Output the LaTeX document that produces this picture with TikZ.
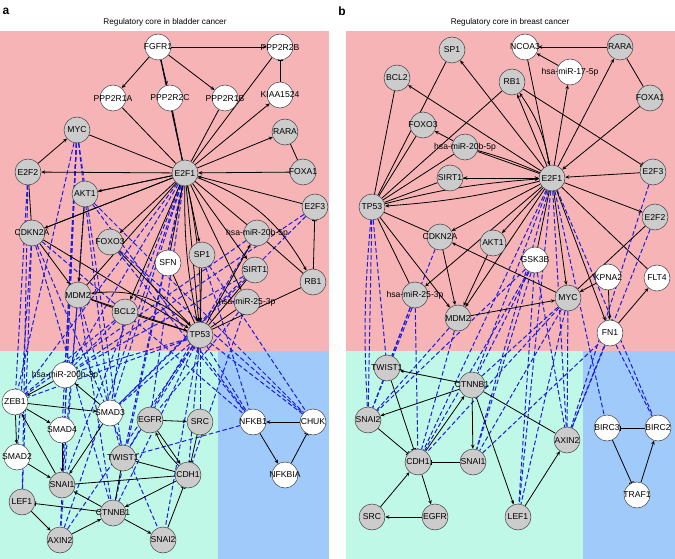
\documentclass[tikz,border=0pt]{standalone}
\usepackage{fontspec}
\setmainfont{Liberation Sans}
\usepackage{tikz}
\usetikzlibrary{arrows.meta}
\definecolor{coreRed}{RGB}{246,180,182}
\definecolor{coreCyan}{RGB}{192,248,232}
\definecolor{coreBlue}{RGB}{160,202,250}
\definecolor{geneGray}{RGB}{204,204,204}
\definecolor{linkBlue}{RGB}{28,28,222}
\pgfdeclarelayer{regions}
\pgfdeclarelayer{links}
\pgfsetlayers{regions,links,main}
\newcommand{\genefont}{\fontsize{8.6}{9}\selectfont}
\tikzset{
    gene/.style={circle, draw=black!75, line width=0.5pt, minimum size=26pt, inner sep=0pt,
        label={[font=\genefont, inner sep=0pt]center:#1}},
    ggene/.style={gene=#1, fill=geneGray},
    wgene/.style={gene=#1, fill=white},
    act/.style={line width=0.8pt, -{Stealth[length=4pt,width=3.5pt]}},
    inh/.style={line width=0.8pt, -{Bar[width=5pt]}},
    bond/.style={line width=0.8pt},
    reg/.style={linkBlue, line width=1pt, dash pattern=on 4.5pt off 2.5pt},
}

\begin{document}
\begin{tikzpicture}[x=1pt, y=-1pt]

    \useasboundingbox (0,0) rectangle (675,559);

    % Draw the coloured regions of both panels
    \begin{pgfonlayer}{regions}
        \fill[coreRed] (0,31) rectangle (329,351);
        \fill[coreCyan] (0,351) rectangle (218,559);
        \fill[coreBlue] (218,351) rectangle (329,559);
        \fill[coreRed] (346,31) rectangle (675,351);
        \fill[coreCyan] (346,351) rectangle (583,559);
        \fill[coreBlue] (583,351) rectangle (675,559);
    \end{pgfonlayer}

    % Panel letters and titles
    \node[font=\bfseries\fontsize{12}{14}\selectfont] (aTag) at (6,11) {a};
    \node[font=\fontsize{8.2}{9}\selectfont] (aTitle) at (165,22) {Regulatory core in bladder cancer};
    \node[font=\bfseries\fontsize{12}{14}\selectfont] (bTag) at (342,11) {b};
    \node[font=\fontsize{8.2}{9}\selectfont] (bTitle) at (510,22) {Regulatory core in breast cancer};

    % Panel a: grey genes
    \foreach \nm/\x/\y/\lbl in {MYC/77/130/MYC, RARA/285/132/RARA, E2F2/28/172/E2F2, E2F1/185/173/E2F1,
        FOXA1/303/172/FOXA1, AKT1/85/194/AKT1, E2F3/315/207/E2F3, CDKN2A/32/233/CDKN2A,
        FOXO3/110/242/FOXO3, mirB/257/233/hsa-miR-20b-5p, SP1/202/255/SP1, SIRT1/255/270/SIRT1,
        RB1/313/282/RB1, MDM2/78/295/MDM2, BCL2/125/312/BCL2, mirC/247/302/hsa-miR-25-3p,
        TP53/200/335/TP53, EGFR/150/420/EGFR, SRC/200/422/SRC, TWIST1/123/458/TWIST1,
        CDH1/188/475/CDH1, SNAI1/62/485/SNAI1, LEF1/22/502/LEF1, CTNNB1/113/513/CTNNB1,
        AXIN2/60/540/AXIN2, SNAI2/163/540/SNAI2}{
        \node[ggene=\lbl] (a\nm) at (\x,\y) {};
    }

    % Panel a: white genes
    \foreach \nm/\x/\y/\lbl in {FGFR1/158/47/FGFR1, PPP2R2B/280/47/PPP2R2B, PPP2R1A/113/98/PPP2R1A,
        PPP2R2C/170/98/PPP2R2C, PPP2R1B/225/98/PPP2R1B, KIAA1524/280/95/KIAA1524, SFN/168/263/SFN,
        mirA/65/375/hsa-miR-200b-3p, ZEB1/15/402/ZEB1, SMAD3/110/413/SMAD3, NFKB1/253/422/NFKB1,
        CHUK/313/422/CHUK, SMAD4/62/430/SMAD4, SMAD2/17/457/SMAD2, NFKBIA/285/475/NFKBIA}{
        \node[wgene=\lbl] (a\nm) at (\x,\y) {};
    }

    % Panel b: grey genes
    \foreach \nm/\x/\y/\lbl in {SP1/452/50/SP1, RARA/620/47/RARA, BCL2/397/78/BCL2, RB1/512/82/RB1,
        FOXA1/650/98/FOXA1, FOXO3/423/125/FOXO3, mirB/465/147/hsa-miR-20b-5p, E2F1/552/178/E2F1,
        SIRT1/450/178/SIRT1, E2F3/653/172/E2F3, TP53/372/207/TP53, E2F2/655/217/E2F2,
        CDKN2A/440/237/CDKN2A, AKT1/493/243/AKT1, mirC/415/295/hsa-miR-25-3p, MYC/568/298/MYC,
        MDM2/458/318/MDM2, TWIST1/387/368/TWIST1, CTNNB1/472/385/CTNNB1, SNAI2/368/420/SNAI2,
        AXIN2/567/440/AXIN2, CDH1/418/462/CDH1, SNAI1/473/462/SNAI1, SRC/372/517/SRC,
        EGFR/435/517/EGFR, LEF1/518/517/LEF1}{
        \node[ggene=\lbl] (b\nm) at (\x,\y) {};
    }

    % Panel b: white genes
    \foreach \nm/\x/\y/\lbl in {NCOA3/525/47/NCOA3, mirQ/570/72/hsa-miR-17-5p, GSK3B/535/260/GSK3B,
        KPNA2/608/277/KPNA2, FLT4/657/278/FLT4, FN1/610/333/FN1, BIRC3/607/428/BIRC3,
        BIRC2/658/428/BIRC2, TRAF1/637/495/TRAF1}{
        \node[wgene=\lbl] (b\nm) at (\x,\y) {};
    }

    \begin{pgfonlayer}{links}

    % Panel a: dashed regulatory links
    \foreach \s/\t in {FGFR1/E2F1, MYC/ZEB1, MYC/SMAD4, MYC/SNAI1, MYC/AXIN2, MYC/mirA, MYC/TWIST1,
        MYC/SMAD3, E2F1/mirA, E2F1/SMAD3, E2F1/ZEB1, E2F1/TWIST1, E2F1/SNAI1, E2F1/EGFR, E2F1/AXIN2,
        E2F1/CTNNB1, E2F2/LEF1, E2F2/ZEB1, CDKN2A/SMAD2, CDKN2A/LEF1, CDKN2A/CTNNB1, CDKN2A/SNAI2,
        CDKN2A/NFKB1, AKT1/NFKB1, AKT1/CHUK, AKT1/AXIN2, FOXO3/NFKB1, FOXO3/CHUK, MDM2/SNAI1,
        MDM2/TWIST1, MDM2/CTNNB1, BCL2/mirA, BCL2/SMAD3, BCL2/ZEB1, E2F3/mirA, E2F3/SMAD3, mirB/ZEB1,
        mirB/TWIST1, SIRT1/SMAD3, SIRT1/mirA, mirC/CDH1, mirC/EGFR, TP53/mirA, TP53/ZEB1, TP53/SMAD3,
        TP53/SRC, TP53/TWIST1, TP53/CDH1, TP53/SNAI2, TP53/NFKB1, TP53/CHUK, TP53/CTNNB1,
        TP53/AXIN2, SP1/NFKB1, SP1/CHUK, NFKB1/TWIST1}{
        \draw[reg] (a\s) -- (a\t);
    }

    % Panel a: activations
    \foreach \s/\t in {FGFR1/PPP2R2B, FGFR1/PPP2R1A, FGFR1/PPP2R2C, FGFR1/PPP2R1B, E2F1/KIAA1524,
        E2F1/RARA, FOXA1/E2F1, E2F1/E2F2, E2F2/MYC, E2F3/E2F1, E2F1/FOXO3, E2F1/CDKN2A, E2F1/AKT1,
        E2F1/SP1, E2F1/BCL2, E2F1/TP53, AKT1/MDM2, CDKN2A/MDM2, CDKN2A/TP53, MDM2/TP53, FOXO3/TP53,
        SP1/TP53, TP53/mirB, E2F1/SIRT1, E2F1/mirC, mirA/ZEB1, SMAD3/mirA, ZEB1/SMAD3, ZEB1/SMAD4,
        ZEB1/SMAD2, SMAD2/SNAI1, SMAD4/SNAI1, SNAI1/ZEB1, SMAD3/SNAI1, EGFR/SRC, EGFR/CDH1,
        CDH1/CTNNB1, CTNNB1/SNAI1, LEF1/AXIN2, AXIN2/CTNNB1, CTNNB1/SNAI2, CHUK/NFKB1, NFKB1/NFKBIA}{
        \draw[act] (a\s) -- (a\t);
    }

    % Panel a: inhibitions
    \foreach \s/\t in {KIAA1524/PPP2R2B, RB1/E2F3, SRC/CDH1, CTNNB1/LEF1, SNAI2/CDH1, NFKBIA/CHUK}{
        \draw[inh] (a\s) -- (a\t);
    }

    % Panel a: plain links
    \foreach \s/\t in {FGFR1/E2F1, PPP2R2B/E2F1, PPP2R1A/E2F1, PPP2R1B/E2F1, PPP2R2C/E2F1, MYC/E2F1,
        FOXA1/RARA, CDKN2A/E2F2, AKT1/E2F1, CDKN2A/E2F1, SFN/E2F1, E2F1/MDM2, mirB/RB1, mirB/E2F1,
        TP53/RB1, TP53/mirC, BCL2/MDM2, BCL2/TP53, SFN/TP53, SIRT1/TP53, TWIST1/CDH1, SNAI1/CDH1,
        CTNNB1/TWIST1}{
        \draw[bond] (a\s) -- (a\t);
    }
    \draw[act] (aE2F1) to[bend left=20] (aRB1);
    \draw[act] (aTP53) to[bend right=25] (aMDM2);
    \draw[act] (aE2F1) to[bend left=6] (aTP53);
    \draw[act] (aE2F1) to[bend right=6] (aTP53);
    \draw[act] (aCDH1) to[bend left=10] (aEGFR);

    % Panel b: dashed regulatory links
    \foreach \s/\t in {TP53/SNAI2, TP53/TWIST1, mirC/TWIST1, mirC/SNAI2, mirC/CDH1, CDKN2A/SNAI2,
        MDM2/SNAI2, MDM2/CDH1, GSK3B/SNAI2, GSK3B/CDH1, GSK3B/SNAI1, GSK3B/CTNNB1, GSK3B/LEF1,
        GSK3B/AXIN2, E2F1/CTNNB1, E2F1/CDH1, E2F1/SNAI1, E2F1/LEF1, E2F1/AXIN2, E2F1/BIRC3,
        E2F1/BIRC2, MYC/SNAI1, MYC/LEF1, MYC/AXIN2, MYC/CDH1, E2F3/AXIN2, E2F2/AXIN2, FN1/BIRC2,
        SNAI1/FN1, CTNNB1/MYC, FN1/AXIN2}{
        \draw[reg] (b\s) -- (b\t);
    }
    \draw[reg] (bTP53) to[bend right=4] (bSNAI2);

    % Panel b: activations
    \foreach \s/\t in {RARA/NCOA3, mirQ/NCOA3, E2F1/mirQ, E2F1/RARA, FOXA1/E2F1, NCOA3/E2F1,
        E2F1/RB1, E2F1/SP1, E2F1/BCL2, mirB/FOXO3, E2F1/SIRT1, SIRT1/E2F1, E2F3/E2F1, E2F1/E2F2,
        E2F1/CDKN2A, TP53/MDM2, CDKN2A/MDM2, AKT1/MDM2, E2F1/MDM2, E2F1/AKT1, MYC/CDKN2A,
        KPNA2/MYC, E2F1/MYC, E2F1/FN1, FN1/FLT4, MDM2/MYC, E2F1/mirC, KPNA2/FN1, CTNNB1/TWIST1,
        CTNNB1/SNAI2, CTNNB1/SNAI1, CTNNB1/LEF1, CDH1/EGFR, EGFR/SRC, SRC/CDH1, LEF1/AXIN2,
        CDH1/CTNNB1, TRAF1/BIRC2}{
        \draw[act] (b\s) -- (b\t);
    }
    \draw[act] (bE2F1) to[bend left=5] (bTP53);
    \draw[act] (bTP53) to[bend left=5] (bE2F1);
    \draw[act] (bE2F1) to[bend right=12] (bRB1);

    % Panel b: inhibitions
    \foreach \s/\t in {RB1/E2F3, SNAI1/CDH1, BIRC2/BIRC3, BIRC3/TRAF1, TWIST1/CDH1, SNAI2/CDH1}{
        \draw[inh] (b\s) -- (b\t);
    }

    % Panel b: plain links
    \foreach \s/\t in {FOXA1/RARA, mirB/E2F1, TP53/SP1, TP53/BCL2, TP53/FOXO3, TP53/mirB, TP53/RB1,
        GSK3B/E2F1, FLT4/E2F1, E2F2/MYC, TP53/mirC, TP53/SIRT1, TP53/CDKN2A, CTNNB1/AXIN2}{
        \draw[bond] (b\s) -- (b\t);
    }
    \draw[bond] (bmirB) to[bend left=4] (bE2F1);

    \end{pgfonlayer}

\end{tikzpicture}
\end{document}
